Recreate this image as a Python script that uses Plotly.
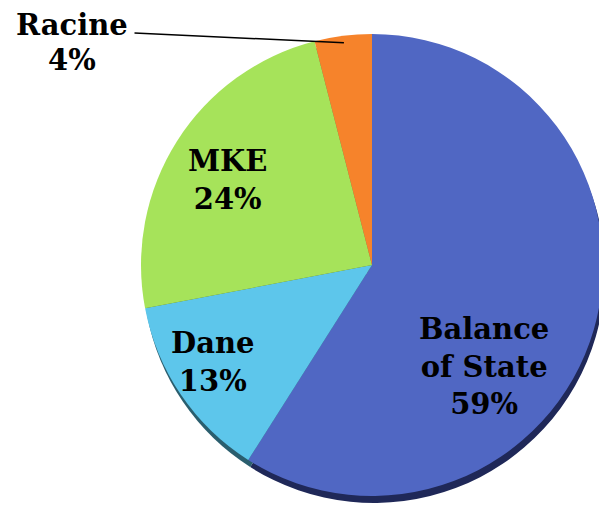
import math
import plotly.graph_objects as go

labels = ["Balance<br>of State", "Dane", "MKE", "Racine"]
values = [59, 13, 24, 4]
colors = ["#5067C3", "#5DC6EB", "#A6E35A", "#F6832B"]
shadow_colors = ["#1F2858", "#2A5E6E", "#4F6B2A", "#6E3A12"]

W, H = 607, 515
OFF = 8                     # page body margin, screen px -> figure px
cx, cy, r = 372, 265, 231   # pie centre / radius (screen pixels)
dx, dy = 2, 7               # shadow offset


def px(sx):
    return (sx - OFF) / W


def py(sy):
    return 1 - (sy - OFF) / H


def dom(cx, cy, r):
    return dict(x=[px(cx - r), px(cx + r)], y=[py(cy + r), py(cy - r)])


fig = go.Figure()

# dark copy below, gives the rim / drop shadow
fig.add_trace(go.Pie(
    values=values, labels=labels, sort=False, direction="clockwise",
    marker=dict(colors=shadow_colors, line=dict(width=0)),
    textinfo="none", hoverinfo="skip", showlegend=False,
    domain=dom(cx + dx, cy + dy, r)))

fig.add_trace(go.Pie(
    values=values, labels=labels, sort=False, direction="clockwise",
    marker=dict(colors=colors, line=dict(width=0)),
    textinfo="none", hoverinfo="skip", showlegend=False,
    domain=dom(cx, cy, r)))

lbl_font = dict(family="DejaVu Serif", size=29, color="#000000", weight="bold")

# inside labels (screen positions of label centres)
label_pos = [(484, 366), (212, 362), (227, 180)]
for (sx, sy), lab, v in zip(label_pos, labels[:3], values[:3]):
    fig.add_annotation(text="%s<br>%d%%" % (lab, v), x=px(sx), y=py(sy),
                       xref="paper", yref="paper", showarrow=False,
                       font=lbl_font, align="center",
                       xanchor="center", yanchor="middle")

# Racine sits outside, leader line to the middle of its slice
tot = float(sum(values))
mid = (sum(values[:3]) + values[3] / 2) / tot * 2 * math.pi
hx = cx + 0.97 * r * math.sin(mid)
hy = cy - 0.97 * r * math.cos(mid)
fig.add_annotation(text=labels[3], x=px(72), y=py(25), xref="paper",
                   yref="paper", showarrow=False, font=lbl_font,
                   xanchor="center", yanchor="middle")
fig.add_annotation(text="%d%%" % values[3], x=px(72), y=py(60), xref="paper",
                   yref="paper", showarrow=False, font=lbl_font,
                   xanchor="center", yanchor="middle")
fig.add_annotation(text="", x=px(hx), y=py(hy), xref="paper", yref="paper",
                   ax=133 - hx, ay=33 - hy, showarrow=True, arrowhead=0,
                   arrowwidth=1.5, arrowcolor="#000000")

fig.update_layout(
    width=W, height=H,
    margin=dict(l=0, r=0, t=0, b=0),
    paper_bgcolor="#FFFFFF",
    plot_bgcolor="#FFFFFF",
    showlegend=False,
)

fig.write_html("out.html")
